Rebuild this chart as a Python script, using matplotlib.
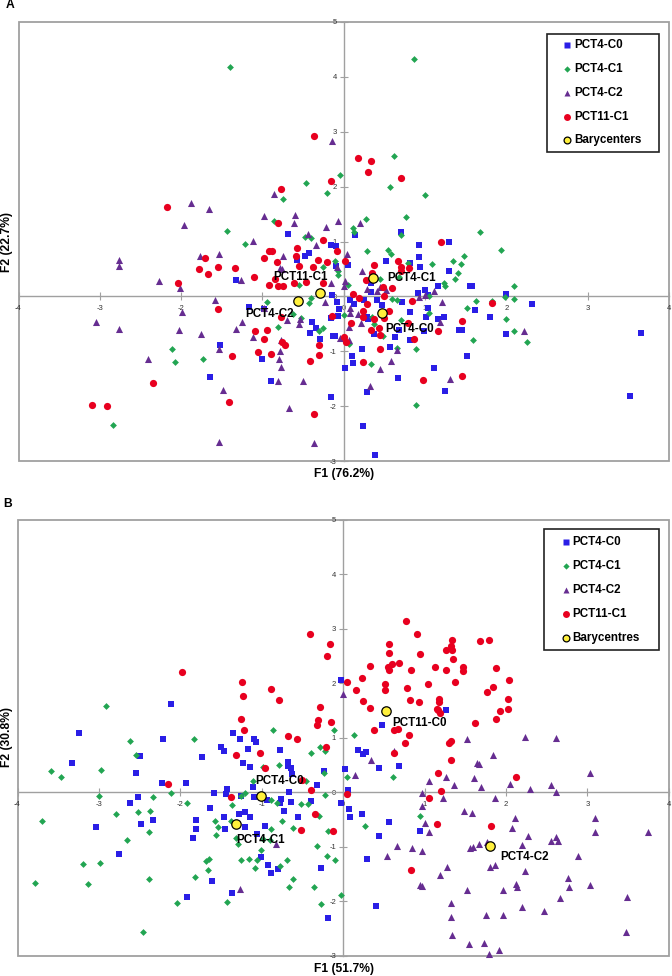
import numpy as np
import matplotlib
matplotlib.use('Agg')
import matplotlib.pyplot as plt
from matplotlib.lines import Line2D
from matplotlib.patches import Rectangle

plt.rcParams['font.family'] = ['Liberation Sans', 'DejaVu Sans']
plt.rcParams['axes.unicode_minus'] = False

# Panel A scores (F1, F2)
a_c0 = [(-0.68,1.13),(-0.16,0.94),(-0.09,0.92),(-0.43,0.79),(-0.48,0.74),(-0.57,0.66),(-0.10,0.55),(-1.32,0.30),
        (-0.14,0.02),(0.71,1.17),(0.14,1.11),(1.30,0.99),(0.93,0.94),(0.93,0.71),(0.52,0.65),(0.81,0.61),(0.05,0.58),
        (0.94,0.53),(1.29,0.46),(0.34,0.24),(1.55,0.19),(1.58,0.18),(1.16,0.19),(1.00,0.12),(0.91,0.07),(1.03,0.03),
        (0.34,0.08),(2.00,0.04),(2.32,-0.14),(-0.08,-0.11),(0.08,-0.06),(0.12,-0.13),(-0.06,-0.23),(-0.07,-0.35),
        (0.41,-0.06),(0.47,-0.15),(0.25,-0.06),(0.72,-0.11),(1.03,-0.22),(0.82,-0.28),(1.01,-0.38),(1.61,-0.25),
        (1.80,-0.37),(1.23,-0.37),(1.16,-0.42),(0.28,-0.37),(0.30,-0.42),(0.68,-0.62),(0.99,-0.63),(1.42,-0.62),
        (1.45,-0.62),(0.37,-0.69),(0.63,-0.74),(0.81,-0.79),(-0.11,-0.72),(2.00,-0.69),(3.66,-0.67),(0.22,-0.96),
        (0.57,-0.92),(0.10,-1.09),(0.11,-1.21),(1.52,-1.08),(0.01,-1.31),(1.11,-1.31),(0.67,-1.48),(0.29,-1.74),
        (1.25,-1.73),(3.52,-1.82),(0.24,-2.37),(0.39,-2.89),(-1.16,-0.19),(-0.98,-0.23),(-0.16,-0.40),(-0.39,-0.47),
        (-0.34,-0.57),(-0.41,-0.67),(-0.29,-0.77),(-0.13,-0.72),(-1.52,-0.88),(-1.00,-1.15),(-1.64,-1.47),
        (-0.89,-1.55),(-0.16,-1.83)]
a_c1 = [(-1.40,4.18),(-0.47,2.06),(-0.21,1.89),(-0.75,1.78),(-0.05,2.21),(-0.86,1.37),(-1.44,1.20),(-1.22,0.96),
        (-0.48,1.09),(-0.40,1.06),(-0.11,0.65),(-0.26,0.54),(-0.07,0.39),(-0.55,0.20),(-0.40,-0.03),(0.86,4.33),
        (0.62,2.56),(0.57,1.99),(1.00,1.84),(0.76,1.44),(0.27,1.41),(0.11,1.25),(0.12,1.17),(0.70,1.11),(1.68,1.17),
        (1.93,0.84),(0.29,0.83),(0.54,0.85),(0.58,0.78),(1.48,0.74),(1.34,0.64),(1.44,0.59),(1.08,0.59),(0.79,0.60),
        (1.40,0.43),(1.37,0.32),(1.23,0.25),(1.25,0.19),(2.09,0.18),(0.68,0.36),(0.44,0.32),(0.05,0.20),(-0.07,0.47),
        (0.59,-0.05),(0.66,-0.06),(1.05,0.00),(1.63,-0.08),(1.82,-0.09),(1.98,-0.01),(2.09,-0.04),(1.51,-0.21),
        (1.05,-0.31),(0.00,-0.34),(2.00,-0.42),(0.71,-0.43),(0.37,-0.51),(2.09,-0.63),(0.48,-0.72),(1.59,-0.80),
        (2.25,-0.84),(0.07,-0.87),(0.66,-0.94),(0.89,-0.96),(0.34,-1.24),(0.89,-1.98),(0.35,-0.37),(-0.94,-0.11),
        (-0.43,-0.12),(-0.63,-0.32),(-0.52,-0.39),(-0.81,-0.56),(-0.31,-0.63),(-0.26,-0.57),(-2.11,-0.96),
        (-2.07,-1.19),(-1.73,-1.14),(-2.84,-2.35)]
a_c2 = [(-2.76,0.66),(-2.76,0.56),(-1.88,1.70),(-1.66,1.59),(-1.96,1.30),(-0.86,1.87),(-0.98,1.46),(-0.60,1.48),
        (-0.61,1.33),(-0.14,2.84),(-0.07,1.38),(-0.22,1.27),(-0.44,1.14),(-0.34,0.94),(-1.11,1.01),(-1.54,0.77),
        (-1.77,0.74),(-0.75,0.73),(-0.79,0.51),(-0.76,0.49),(-2.27,0.28),(-2.01,0.15),(-1.26,0.30),(-0.16,0.25),
        (-0.08,0.53),(0.20,1.33),(0.04,0.77),(0.23,0.47),(0.01,0.28),(0.00,0.18),(0.28,0.13),(0.41,0.09),(0.45,0.17),
        (0.52,0.12),(0.92,-0.02),(1.00,0.02),(1.11,0.09),(1.21,-0.11),(0.08,-0.22),(0.08,-0.31),(0.18,-0.32),
        (0.21,-0.48),(0.07,-0.55),(1.18,-0.46),(-0.05,-0.76),(0.07,-0.79),(0.65,-0.97),(0.58,-1.17),(0.44,-1.33),
        (1.31,-1.51),(0.32,-1.64),(2.22,-0.64),(-1.58,-0.07),(-1.99,-0.29),(-3.05,-0.47),(-2.77,-0.59),(-2.02,-0.62),
        (-1.75,-0.68),(-1.32,-0.59),(-1.25,-0.46),(-0.98,-0.22),(-0.70,-0.43),(-0.54,-0.42),(-0.55,-0.51),
        (-0.23,-0.11),(-1.11,-0.74),(-0.77,-0.79),(-0.79,-0.99),(-1.54,-0.96),(-2.41,-1.14),(-0.80,-1.14),
        (-0.77,-1.29),(-0.81,-1.54),(-0.50,-1.55),(-1.49,-1.70),(-0.67,-2.03),(-1.53,-2.65),(-0.36,-2.68)]
a_c11 = [(-0.36,2.92),(-0.16,2.11),(-0.77,1.95),(-2.17,1.62),(-0.81,1.33),(-0.25,1.03),(-0.58,0.88),(-0.92,0.82),
         (-0.88,0.82),(-0.08,0.82),(-0.59,0.73),(-0.98,0.70),(-1.71,0.70),(-0.82,0.63),(-0.32,0.66),(-0.20,0.62),
         (-0.55,0.56),(-0.38,0.54),(-1.55,0.54),(-1.78,0.49),(-1.34,0.51),(-1.67,0.41),(-1.10,0.36),(-0.84,0.32),
         (-2.04,0.25),(-0.92,0.20),(-0.81,0.19),(-0.75,0.19),(-0.61,0.25),(-0.46,0.27),(-0.25,0.24),(0.17,2.53),
         (0.34,2.47),(0.30,2.27),(0.70,2.16),(1.20,0.99),(0.01,0.65),(0.67,0.65),(0.37,0.58),(0.71,0.54),(0.80,0.52),
         (0.70,0.47),(0.35,0.42),(0.27,0.29),(0.48,0.17),(0.59,0.15),(0.11,0.04),(0.19,-0.03),(0.50,0.00),(0.84,-0.08),
         (0.28,-0.14),(0.56,-0.26),(0.24,-0.26),(0.24,-0.37),(0.37,-0.42),(0.50,-0.40),(0.09,-0.48),(0.79,-0.49),
         (1.46,-0.45),(0.33,-0.61),(0.43,-0.58),(0.44,-0.71),(1.16,-0.63),(0.00,-0.74),(0.03,-0.83),(0.87,-0.77),
         (0.44,-0.96),(0.24,-1.20),(0.97,-1.52),(1.46,-1.46),(1.82,-0.12),(-1.55,-0.23),(-0.77,-0.37),(-0.14,-0.36),
         (-1.09,-0.64),(-0.95,-0.61),(-0.98,-0.77),(-0.76,-0.84),(-0.72,-0.88),(-0.31,-0.88),(-1.05,-1.02),
         (-0.89,-1.05),(-0.30,-1.07),(-0.41,-1.17),(-1.37,-1.08),(-2.34,-1.58),(-1.41,-1.92),(-3.09,-1.98),
         (-2.91,-2.00),(-0.36,-2.14)]
a_bary = [(0.47,-0.31),(0.36,0.34),(-0.56,-0.09),(-0.29,0.06)]

# Panel B scores (F1, F2)
b_c0 = [(-2.12,1.62),(-3.25,1.09),(-2.21,0.98),(-1.35,1.09),(-1.27,0.98),(-1.10,0.98),(-1.07,0.93),(-1.50,0.84),
        (-1.46,0.75),(-1.17,0.80),(-0.77,0.77),(-2.50,0.67),(-1.73,0.65),(-3.33,0.54),(-1.23,0.54),(-1.14,0.47),
        (-0.68,0.56),(-0.68,0.49),(-0.64,0.44),(-0.63,0.33),(-2.54,0.35),(-0.24,0.40),(-2.23,0.18),(-1.93,0.17),
        (-0.32,0.14),(-1.11,0.10),(-1.43,0.06),(-0.02,2.07),(1.27,1.52),(0.48,1.24),(0.18,0.78),(0.28,0.74),(0.25,0.71),
        (0.44,0.45),(0.69,0.48),(0.02,0.43),(0.06,0.04),(-3.04,-0.64),(-2.52,-0.08),(-2.62,-0.20),(-2.48,-0.59),
        (-2.34,-0.51),(-2.75,-1.14),(-1.81,-0.51),(-1.81,-0.67),(-1.85,-0.84),(-1.63,-0.28),(-1.59,-0.01),(-1.44,-0.04),
        (-1.25,-0.06),(-1.09,-0.09),(-1.46,-0.45),(-1.28,-0.40),(-1.20,-0.37),(-1.14,-0.45),(-1.45,-0.67),(-1.20,-0.64),
        (-0.96,-0.62),(-1.06,-0.77),(-1.01,-1.19),(-0.92,-1.33),(-0.89,-1.49),(-0.80,-1.40),(-1.61,-1.63),(-1.36,-1.85),
        (-1.92,-1.93),(-0.18,-2.30),(-0.27,-1.39),(-0.93,-0.14),(-0.76,-0.12),(-0.77,-0.20),(-0.66,0.00),(-0.64,-0.17),
        (-0.72,-0.35),(-0.56,-0.45),(-0.39,-0.16),(-0.02,-0.19),(0.07,-0.31),(0.08,-0.45),(0.23,-0.39),(0.57,-0.54),
        (0.44,-0.81),(0.95,-0.71),(0.29,-1.23),(0.40,-2.09)]
b_c1 = [(-2.91,1.59),(-2.62,0.95),(-1.83,0.98),(-0.86,1.15),(-0.11,1.14),(-2.54,0.69),(-3.59,0.39),(-3.46,0.29),
        (-2.97,0.41),(-0.40,0.73),(-0.28,0.83),(-0.22,0.75),(-0.79,0.51),(-0.98,0.46),(-0.24,0.35),(-1.11,0.21),
        (-0.45,0.21),(0.14,1.05),(0.05,0.28),(0.61,0.28),(-3.00,-0.06),(-2.34,-0.09),(-2.12,-0.01),(-1.92,-0.20),
        (-2.79,-0.40),(-2.52,-0.36),(-2.37,-0.34),(-3.70,-0.52),(-2.39,-0.73),(-2.65,-0.87),(-3.20,-1.31),(-2.99,-1.29),
        (-3.79,-1.67),(-3.13,-1.69),(-2.38,-1.60),(-1.82,-1.55),(-1.66,-1.43),(-1.69,-1.26),(-1.65,-1.22),(-2.04,-2.04),
        (-1.43,-2.02),(-2.46,-2.57),(-1.37,-0.24),(-1.25,-0.06),(-1.20,-0.02),(-1.38,-0.52),(-1.57,-0.52),(-1.54,-0.64),
        (-1.56,-0.79),(-1.32,-0.83),(-1.29,-0.95),(-0.98,-0.85),(-0.90,-0.87),(-1.01,-1.06),(-1.25,-1.25),(-1.15,-1.23),
        (-1.06,-1.25),(-1.08,-1.39),(-0.69,-1.25),(-0.77,-1.36),(-0.61,-1.59),(-0.66,-1.74),(-0.36,-1.74),(-0.27,-2.05),
        (-0.88,-0.67),(-0.75,-0.52),(-0.62,-0.66),(-0.89,-0.14),(-0.81,-0.19),(-0.52,-0.21),(-0.43,-0.22),(-0.30,-0.43),
        (-0.22,-0.05),(-0.19,-0.71),(-0.32,-0.98),(-0.20,-1.17),(-0.10,-1.24),(-0.03,-1.88),(0.94,-0.44),(0.27,-0.62)]
b_c2 = [(0.00,1.80),(1.52,0.98),(2.23,1.02),(2.61,0.99),(1.84,0.69),(0.63,0.75),(0.34,0.59),(1.65,0.53),(1.67,0.52),
        (0.15,0.31),(3.03,0.36),(1.27,0.29),(1.06,0.21),(1.36,0.14),(1.61,0.26),(1.70,0.09),(2.05,0.16),(2.29,0.07),
        (2.55,0.13),(-0.82,-0.94),(-1.27,-1.77),(0.97,-0.02),(1.23,-0.10),(1.86,-0.11),(2.61,0.01),(0.97,-0.25),
        (1.48,-0.34),(1.58,-0.38),(2.11,-0.48),(3.10,-0.48),(1.00,-0.57),(2.08,-0.65),(1.05,-0.73),(3.10,-0.73),
        (3.75,-0.72),(2.27,-0.81),(2.62,-0.82),(2.55,-0.90),(2.64,-0.89),(2.20,-0.96),(1.67,-0.95),(1.77,-0.91),
        (0.66,-0.98),(0.85,-1.02),(0.97,-1.07),(1.56,-1.03),(1.59,-1.00),(0.54,-1.17),(2.89,-1.17),(1.28,-1.38),
        (1.80,-1.38),(1.86,-1.34),(2.23,-1.44),(1.19,-1.52),(2.76,-1.57),(2.77,-1.74),(3.03,-1.71),(0.95,-1.70),
        (0.97,-1.72),(1.52,-1.80),(1.97,-1.79),(2.12,-1.69),(2.14,-1.74),(2.66,-1.94),(3.49,-1.93),(1.32,-2.04),
        (2.20,-2.10),(2.47,-2.18),(1.76,-2.26),(1.97,-2.25),(1.33,-2.29),(3.48,-2.56),(1.34,-2.62),(1.55,-2.78),
        (1.73,-2.76),(1.91,-2.90),(1.79,-2.97)]
b_c11 = [(-0.41,2.91),(-0.16,2.72),(-0.20,2.51),(-1.98,2.20),(-1.24,2.02),(-0.88,1.90),(-1.23,1.76),(-0.79,1.69),
         (-0.28,1.57),(-1.26,1.35),(-0.31,1.32),(-0.15,1.30),(-0.32,1.23),(-1.22,1.14),(-0.68,1.03),(-0.57,0.98),
         (-0.21,0.83),(-1.02,0.72),(-1.32,0.69),(-0.96,0.45),(-2.15,0.15),(-0.50,0.22),(-0.39,0.04),(0.77,3.14),
         (0.91,2.90),(0.56,2.73),(1.34,2.80),(1.68,2.78),(1.79,2.80),(1.32,2.69),(1.27,2.61),(1.34,2.62),(0.56,2.55),
         (0.95,2.54),(1.35,2.45),(0.60,2.36),(0.69,2.37),(0.55,2.31),(0.33,2.32),(0.56,2.24),(0.84,2.24),(1.13,2.30),
         (1.27,2.24),(1.47,2.31),(1.47,2.23),(1.88,2.29),(0.23,2.09),(0.05,2.02),(2.04,2.06),(1.37,2.03),(0.52,1.98),
         (1.04,1.98),(0.79,1.91),(1.84,1.93),(0.52,1.87),(0.16,1.87),(1.77,1.85),(0.82,1.69),(0.93,1.66),(0.25,1.68),
         (1.18,1.71),(1.18,1.65),(2.02,1.72),(0.33,1.55),(1.15,1.53),(1.17,1.51),(2.02,1.53),(1.93,1.49),(1.19,1.45),
         (1.88,1.35),(1.62,1.27),(0.38,1.15),(0.62,1.15),(0.67,1.17),(0.81,1.05),(1.33,0.95),(1.30,0.90),(0.76,0.91),
         (0.63,0.72),(1.33,0.59),(1.17,0.35),(2.12,0.28),(1.20,0.03),(-1.38,-0.09),(-0.34,-0.39),(-0.52,-0.70),
         (-0.13,-0.71),(0.05,-0.04),(1.06,-0.10),(1.15,-0.59),(1.82,-0.62),(0.83,-1.43)]
b_bary = [(-1.01,-0.07),(-1.32,-0.59),(1.80,-0.98),(0.53,1.49)]

series_names = ['PCT4-C0', 'PCT4-C1', 'PCT4-C2', 'PCT11-C1']
colors = ['#2a1ee6', '#22a552', '#662d91', '#e8001f']
markers = ['s', 'D', '^', 'o']
sizes = [22, 12, 26, 27]
ms = [4.5, 3.2, 4.9, 5.0]
x_ticks = [-4, -3, -2, -1, 0, 1, 2, 3, 4]
y_ticks = [-3, -2, -1, 0, 1, 2, 3, 4, 5]
W, H = 672, 976


def fx(px):
    return px / W


def fy(py):
    return 1 - py / H


def draw_panel(fig, box, series, bary, xlabel, ylabel, xlabel_pos, ylabel_pos, letter, letter_pos):
    left, top, right, bottom = box
    ax = fig.add_axes([fx(left), fy(bottom), (right - left) / W, (bottom - top) / H])
    ax.set_xlim(-4, 4)
    ax.set_ylim(-3, 5)
    for name in ['top', 'right']:
        ax.spines[name].set_visible(False)
    ax.spines['left'].set_position('zero')
    ax.spines['bottom'].set_position('zero')
    for name in ['left', 'bottom']:
        ax.spines[name].set_color('#a0a0a0')
        ax.spines[name].set_linewidth(1.0)
    ax.add_patch(Rectangle((0, 0), 1, 1, transform=ax.transAxes, fill=False, ec='#a0a0a0', lw=1.3, clip_on=False))
    ax.set_xticks(x_ticks)
    ax.set_yticks(y_ticks)
    ax.tick_params(axis='both', direction='inout', length=6, width=0.8, color='#a0a0a0',
                   labelsize=5.5, labelcolor='#333333', pad=2)
    ax.tick_params(axis='x', pad=3)
    ax.patch.set_alpha(0)

    for pts, c, m, s in zip(series, colors, markers, sizes):
        arr = np.array(pts)
        ax.scatter(arr[:, 0], arr[:, 1], s=s, c=c, marker=m, linewidths=0, zorder=3, clip_on=False)
    arr = np.array(bary)
    ax.scatter(arr[:, 0], arr[:, 1], s=46, c='#fff03c', marker='o', edgecolors='black', linewidths=0.9, zorder=4)

    fig.text(fx(xlabel_pos[0]), fy(xlabel_pos[1]), xlabel, fontsize=8.7, fontweight='bold', ha='center', va='center')
    fig.text(fx(ylabel_pos[0]), fy(ylabel_pos[1]), ylabel, fontsize=8.7, fontweight='bold', ha='center', va='center',
             rotation=90)
    fig.text(fx(letter_pos[0]), fy(letter_pos[1]), letter, fontsize=8.7, fontweight='bold', ha='center', va='center')
    return ax


def draw_legend(fig, box, rows, marker_x, text_x, last_label):
    x0, y0, x1, y1 = box
    fig.add_artist(Rectangle((fx(x0), fy(y1)), (x1 - x0) / W, (y1 - y0) / H, transform=fig.transFigure,
                             fc='white', ec='#222222', lw=1.2, zorder=5))
    labels = series_names + [last_label]
    for i, (py, label) in enumerate(zip(rows, labels)):
        if i < 4:
            fig.add_artist(Line2D([fx(marker_x)], [fy(py)], marker=markers[i], ms=ms[i], mfc=colors[i], mec='none',
                                  ls='none', transform=fig.transFigure, zorder=6))
        else:
            fig.add_artist(Line2D([fx(marker_x)], [fy(py)], marker='o', ms=4.9, mfc='#fff03c', mec='black', mew=0.9,
                                  ls='none', transform=fig.transFigure, zorder=6))
        fig.text(fx(text_x), fy(py), label, fontsize=8.4, fontweight='bold', ha='left', va='center', zorder=6)


fig = plt.figure(figsize=(W / 100, H / 100), dpi=100)

draw_panel(fig, (18.5, 22, 669, 461), [a_c0, a_c1, a_c2, a_c11], a_bary, 'F1 (76.2%)', 'F2 (22.7%)',
           (344.5, 474), (7.5, 242), 'A', (10, 5.5))
draw_panel(fig, (17.5, 520, 668.7, 955.7), [b_c0, b_c1, b_c2, b_c11], b_bary, 'F1 (51.7%)', 'F2 (30.8%)',
           (344.5, 969), (7, 737), 'B', (8, 504))

# barycenter labels
a_labels = ['PCT11-C1', 'PCT4-C2', 'PCT4-C1', 'PCT4-C0']
a_label_pos = [(273, 277), (245, 314), (387, 277.5), (385, 329)]
b_labels = ['PCT4-C0', 'PCT4-C1', 'PCT11-C0', 'PCT4-C2']
b_label_pos = [(255, 781), (236, 840), (392, 723), (500, 857)]
for txt, pos in zip(a_labels + b_labels, a_label_pos + b_label_pos):
    fig.text(fx(pos[0]), fy(pos[1]), txt, fontsize=8.4, fontweight='bold', ha='left', va='center', zorder=6)

draw_legend(fig, (547, 34, 659, 152), [45, 69, 93, 116.5, 140], 567, 574, 'Barycenters')
draw_legend(fig, (544, 529, 659, 650), [542, 566, 590, 614, 638], 566, 572, 'Barycentres')

fig.savefig('out.png', dpi=100)
